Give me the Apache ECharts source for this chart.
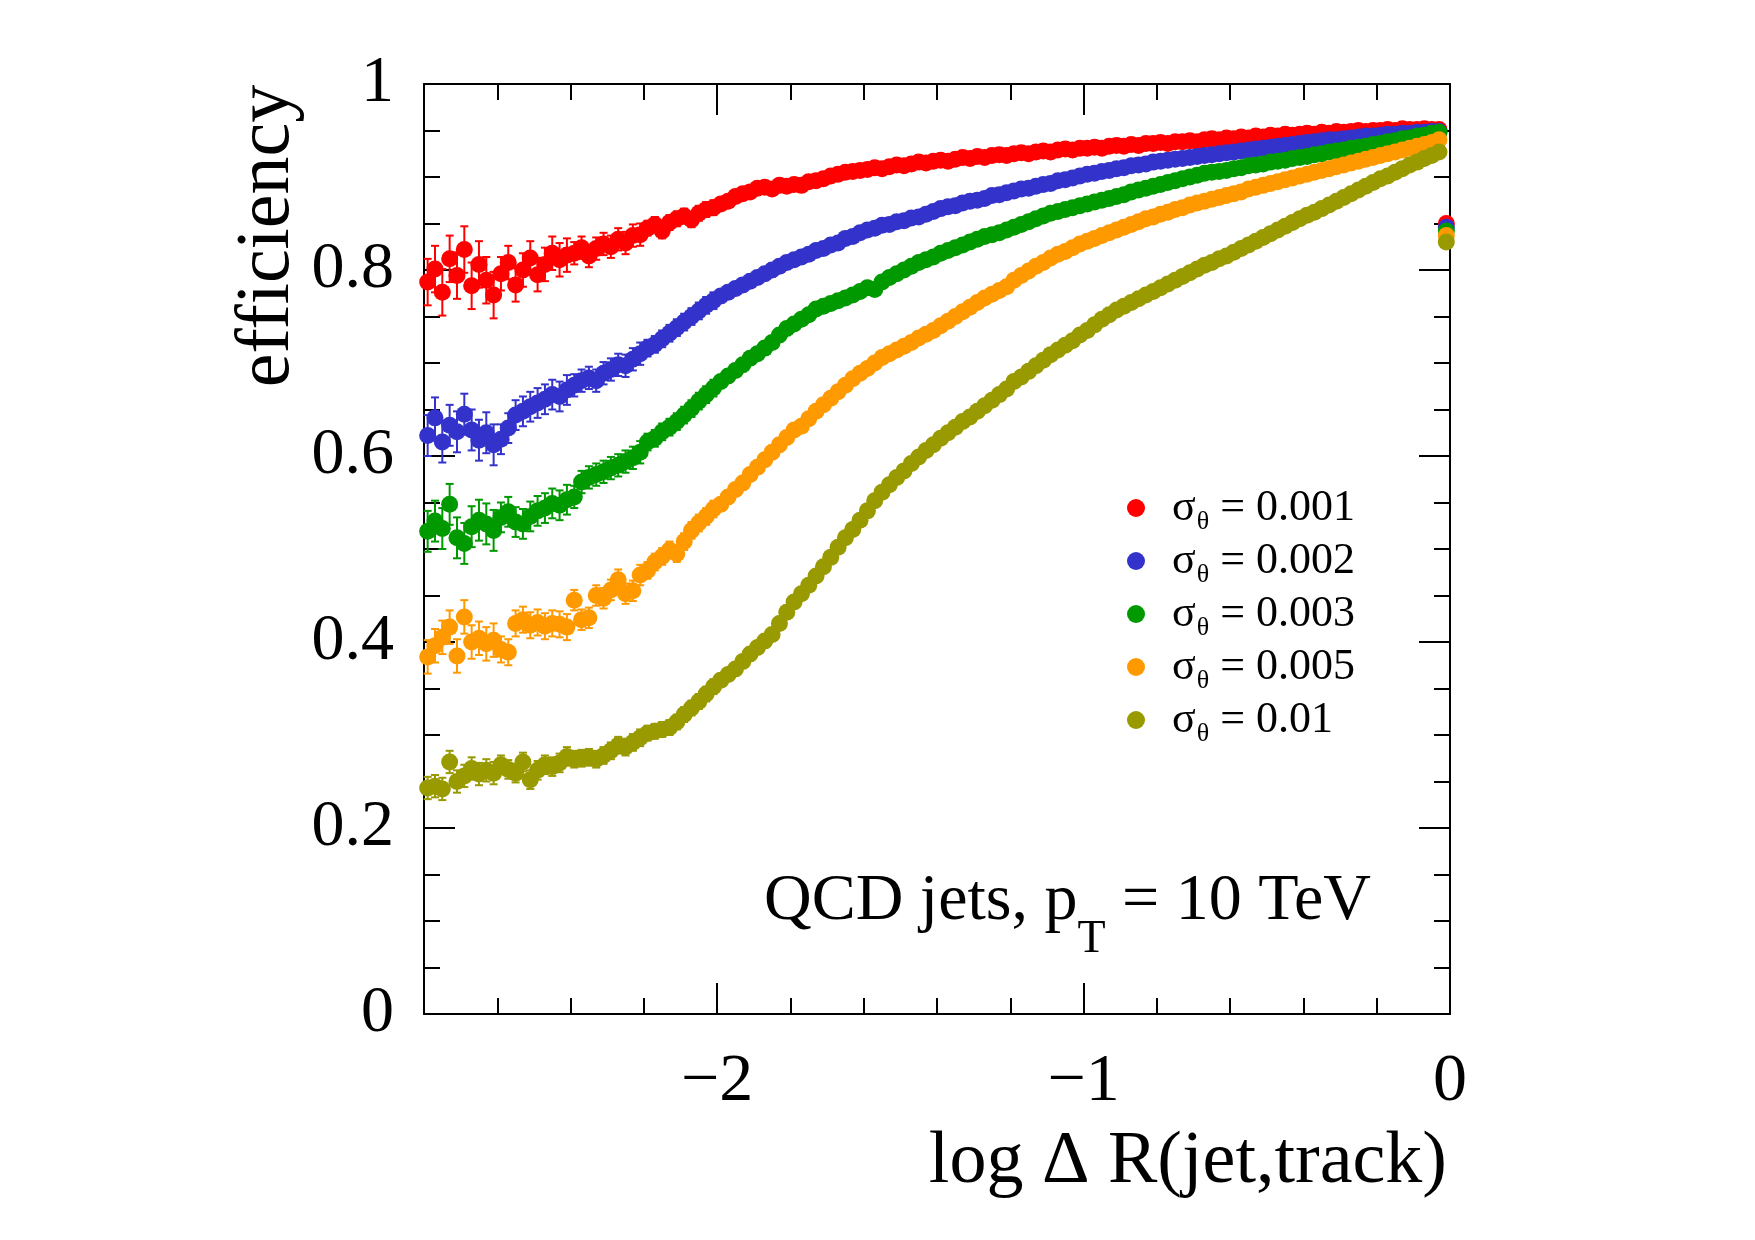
<!DOCTYPE html>
<html>
<head>
<meta charset="utf-8">
<title>efficiency vs log ΔR(jet,track)</title>
<script src="https://cdn.jsdelivr.net/npm/echarts@6.0.0/dist/echarts.min.js"></script>
<style>
  html, body { margin: 0; padding: 0; background: #fff; }
  #chart { width: 1755px; height: 1240px; }
</style>
</head>
<body>
<div id="chart"></div>
<script>
// histogram binning of log ΔR(jet,track): 140 bins of 0.02 from -2.8 to 0
var binLow = -2.8;
var binWidth = 0.02;

var sigmaLabels = ['0.001', '0.002', '0.003', '0.005', '0.01'];

// efficiency per bin (one row = 10 bins = 0.2 in x)
var effRed = [
  0.787, 0.801, 0.776, 0.812, 0.794, 0.822, 0.783, 0.806, 0.789, 0.773,
  0.796, 0.808, 0.784, 0.800, 0.813, 0.795, 0.806, 0.818, 0.811, 0.816,
  0.818, 0.824, 0.815, 0.823, 0.828, 0.825, 0.833, 0.829, 0.837, 0.838,
  0.845, 0.849, 0.842, 0.851, 0.855, 0.858, 0.854, 0.861, 0.865, 0.867,
  0.871, 0.874, 0.879, 0.882, 0.884, 0.888, 0.889, 0.887, 0.891, 0.890,
  0.892, 0.891, 0.895, 0.896, 0.898, 0.901, 0.903, 0.905, 0.906, 0.907,
  0.908, 0.910, 0.909, 0.911, 0.913, 0.912, 0.914, 0.916, 0.915, 0.917,
  0.918, 0.917, 0.919, 0.921, 0.920, 0.922, 0.921, 0.923, 0.924, 0.923,
  0.925, 0.926, 0.925, 0.927, 0.928, 0.927, 0.929, 0.930, 0.929, 0.931,
  0.931, 0.932, 0.931, 0.933, 0.934, 0.933, 0.935, 0.934, 0.936, 0.936,
  0.937, 0.936, 0.938, 0.938, 0.939, 0.938, 0.940, 0.941, 0.940, 0.942,
  0.941, 0.943, 0.942, 0.944, 0.943, 0.945, 0.944, 0.946, 0.945, 0.946,
  0.947, 0.946, 0.948, 0.947, 0.949, 0.948, 0.949, 0.950, 0.949, 0.950,
  0.950, 0.951, 0.950, 0.952, 0.951, 0.951, 0.952, 0.951, 0.951, 0.850
];
var effBlue = [
  0.622, 0.641, 0.615, 0.633, 0.626, 0.645, 0.628, 0.617, 0.625, 0.612,
  0.618, 0.630, 0.644, 0.648, 0.653, 0.657, 0.661, 0.666, 0.664, 0.671,
  0.676, 0.681, 0.684, 0.681, 0.689, 0.693, 0.698, 0.697, 0.704, 0.710,
  0.716, 0.720, 0.726, 0.732, 0.738, 0.744, 0.750, 0.756, 0.762, 0.767,
  0.772, 0.776, 0.780, 0.784, 0.788, 0.792, 0.796, 0.800, 0.804, 0.808,
  0.811, 0.814, 0.817, 0.821, 0.823, 0.827, 0.829, 0.834, 0.836, 0.840,
  0.843, 0.845, 0.848, 0.849, 0.852, 0.853, 0.856, 0.857, 0.860, 0.863,
  0.866, 0.868, 0.869, 0.872, 0.874, 0.875, 0.877, 0.880, 0.881, 0.883,
  0.885, 0.887, 0.888, 0.890, 0.892, 0.893, 0.896, 0.897, 0.899, 0.901,
  0.903, 0.904, 0.906, 0.907, 0.909, 0.910, 0.912, 0.913, 0.914, 0.916,
  0.917, 0.918, 0.919, 0.920, 0.921, 0.922, 0.923, 0.924, 0.925, 0.926,
  0.927, 0.928, 0.929, 0.930, 0.931, 0.932, 0.933, 0.934, 0.935, 0.936,
  0.937, 0.938, 0.939, 0.940, 0.940, 0.941, 0.942, 0.943, 0.944, 0.944,
  0.945, 0.946, 0.946, 0.947, 0.947, 0.948, 0.948, 0.949, 0.949, 0.846
];
var effGreen = [
  0.519, 0.530, 0.522, 0.548, 0.512, 0.506, 0.524, 0.531, 0.527, 0.520,
  0.534, 0.540, 0.529, 0.527, 0.535, 0.541, 0.544, 0.549, 0.547, 0.553,
  0.556, 0.572, 0.577, 0.580, 0.583, 0.587, 0.590, 0.594, 0.598, 0.604,
  0.615, 0.619, 0.626, 0.631, 0.637, 0.644, 0.651, 0.659, 0.666, 0.673,
  0.680, 0.686, 0.692, 0.698, 0.705, 0.710, 0.716, 0.722, 0.730, 0.737,
  0.742, 0.747, 0.752, 0.758, 0.761, 0.764, 0.767, 0.770, 0.773, 0.777,
  0.781, 0.779, 0.787, 0.792, 0.796, 0.800, 0.804, 0.808, 0.811, 0.814,
  0.818, 0.821, 0.824, 0.827, 0.830, 0.833, 0.836, 0.838, 0.840, 0.843,
  0.846, 0.849, 0.852, 0.855, 0.858, 0.861, 0.863, 0.865, 0.867, 0.869,
  0.871, 0.873, 0.875, 0.877, 0.879, 0.881, 0.884, 0.886, 0.888, 0.890,
  0.892, 0.894, 0.896, 0.898, 0.900, 0.902, 0.904, 0.905, 0.906, 0.907,
  0.909, 0.910, 0.912, 0.913, 0.914, 0.916, 0.917, 0.918, 0.920, 0.921,
  0.922, 0.924, 0.925, 0.927, 0.928, 0.929, 0.931, 0.932, 0.933, 0.935,
  0.936, 0.938, 0.939, 0.941, 0.942, 0.944, 0.945, 0.947, 0.948, 0.842
];
var effOrange = [
  0.384, 0.396, 0.405, 0.416, 0.385, 0.427, 0.400, 0.404, 0.398, 0.402,
  0.392, 0.389, 0.420, 0.424, 0.418, 0.421, 0.417, 0.420, 0.419, 0.416,
  0.445, 0.424, 0.426, 0.450, 0.447, 0.456, 0.467, 0.452, 0.455, 0.472,
  0.477, 0.486, 0.492, 0.499, 0.495, 0.508, 0.520, 0.528, 0.535, 0.543,
  0.548, 0.556, 0.564, 0.571, 0.580, 0.588, 0.596, 0.604, 0.612, 0.620,
  0.628, 0.632, 0.640, 0.648, 0.655, 0.662, 0.669, 0.676, 0.683, 0.689,
  0.694, 0.700, 0.706, 0.710, 0.714, 0.718, 0.722, 0.727, 0.731, 0.735,
  0.740, 0.745, 0.750, 0.755, 0.760, 0.765, 0.770, 0.774, 0.778, 0.782,
  0.789, 0.794, 0.799, 0.804, 0.808, 0.813, 0.817, 0.820, 0.824, 0.828,
  0.831, 0.834, 0.837, 0.840, 0.843, 0.846, 0.849, 0.852, 0.855, 0.857,
  0.860, 0.862, 0.865, 0.867, 0.870, 0.872, 0.874, 0.876, 0.878, 0.880,
  0.882, 0.884, 0.887, 0.889, 0.891, 0.893, 0.895, 0.897, 0.899, 0.901,
  0.903, 0.905, 0.907, 0.909, 0.911, 0.913, 0.915, 0.917, 0.919, 0.921,
  0.923, 0.925, 0.927, 0.929, 0.931, 0.933, 0.935, 0.937, 0.940, 0.837
];
var effOlive = [
  0.243, 0.245, 0.242, 0.271, 0.250, 0.256, 0.264, 0.258, 0.262, 0.259,
  0.268, 0.263, 0.259, 0.271, 0.252, 0.262, 0.268, 0.266, 0.270, 0.277,
  0.274, 0.275, 0.276, 0.274, 0.278, 0.283, 0.289, 0.287, 0.292, 0.297,
  0.302, 0.304, 0.306, 0.308, 0.314, 0.322, 0.329, 0.336, 0.344, 0.352,
  0.359, 0.365, 0.371, 0.379, 0.387, 0.394, 0.401, 0.408, 0.420, 0.432,
  0.443, 0.452, 0.461, 0.471, 0.481, 0.491, 0.502, 0.512, 0.521, 0.531,
  0.541, 0.552, 0.561, 0.569, 0.577, 0.584, 0.592, 0.599, 0.606, 0.612,
  0.619, 0.625, 0.631, 0.637, 0.642, 0.648, 0.654, 0.660, 0.666, 0.672,
  0.680, 0.685, 0.691, 0.697, 0.703, 0.709, 0.714, 0.719, 0.724, 0.730,
  0.735, 0.741, 0.747, 0.752, 0.757, 0.761, 0.765, 0.769, 0.773, 0.777,
  0.781, 0.785, 0.789, 0.793, 0.797, 0.801, 0.805, 0.808, 0.812, 0.815,
  0.819, 0.823, 0.827, 0.831, 0.835, 0.839, 0.843, 0.847, 0.851, 0.855,
  0.859, 0.862, 0.866, 0.870, 0.874, 0.878, 0.882, 0.886, 0.890, 0.894,
  0.898, 0.901, 0.905, 0.909, 0.913, 0.916, 0.920, 0.923, 0.927, 0.830
];

// error bar half-height, one value per row of 10 bins
var errRed    = [0.025, 0.018, 0.012, 0.008, 0.006, 0.005, 0.004, 0.003, 0.003, 0.002, 0.002, 0.002, 0.002, 0.002];
var errBlue   = [0.022, 0.016, 0.012, 0.009, 0.007, 0.006, 0.005, 0.004, 0.003, 0.003, 0.002, 0.002, 0.002, 0.002];
var errGreen  = [0.022, 0.016, 0.012, 0.009, 0.007, 0.006, 0.005, 0.004, 0.003, 0.003, 0.003, 0.002, 0.002, 0.002];
var errOrange = [0.018, 0.014, 0.011, 0.009, 0.007, 0.006, 0.005, 0.004, 0.004, 0.003, 0.003, 0.003, 0.002, 0.002];
var errOlive  = [0.012, 0.010, 0.009, 0.008, 0.007, 0.006, 0.005, 0.004, 0.004, 0.003, 0.003, 0.003, 0.002, 0.002];

var chart = echarts.init(document.getElementById('chart'));

var serif = '"Liberation Serif", "DejaVu Serif", serif';
var colors = ['#ff0000', '#3333cc', '#009900', '#ff9900', '#999900'];
var effs = [effRed, effBlue, effGreen, effOrange, effOlive];
var errs = [errRed, errBlue, errGreen, errOrange, errOlive];
var names = sigmaLabels.map(function (s) { return 'σθ = ' + s; });
var axisColor = '#000';

function binCenter(i) {
  return +(binLow + (i + 0.5) * binWidth).toFixed(3);
}

function xLabel(v) {
  var r = Math.round(v);
  if (Math.abs(v - r) > 1e-6) return '';
  return r < 0 ? '\u2212' + (-r) : String(r);
}

function yLabel(v) {
  var r = Math.round(v * 5);
  if (Math.abs(v * 5 - r) > 1e-6) return '';
  if (r === 0) return '0';
  if (r === 5) return '1';
  return (r / 5).toFixed(1);
}

// error bars with small caps (ROOT style)
function errorBars(color) {
  return function (params, api) {
    var x = api.value(0), y = api.value(1), e = api.value(2);
    var hi = api.coord([x, y + e]);
    var lo = api.coord([x, y - e]);
    var cw = 4;
    var st = { stroke: color, lineWidth: 2 };
    return {
      type: 'group',
      children: [
        { type: 'line', shape: { x1: hi[0], y1: hi[1], x2: lo[0], y2: lo[1] }, style: st },
        { type: 'line', shape: { x1: hi[0] - cw, y1: hi[1], x2: hi[0] + cw, y2: hi[1] }, style: st },
        { type: 'line', shape: { x1: lo[0] - cw, y1: lo[1], x2: lo[0] + cw, y2: lo[1] }, style: st }
      ]
    };
  };
}

var series = [];
effs.forEach(function (eff, k) {
  var pts = [], bars = [];
  eff.forEach(function (v, i) {
    var x = binCenter(i);
    pts.push([x, v]);
    bars.push([x, v, errs[k][Math.floor(i / 10)]]);
  });
  series.push({
    type: 'custom',
    name: 'err ' + names[k],
    renderItem: errorBars(colors[k]),
    data: bars,
    silent: true,
    z: 2
  });
  series.push({
    type: 'scatter',
    name: names[k],
    data: pts,
    symbol: 'circle',
    symbolSize: 17,
    itemStyle: { color: colors[k], opacity: 1 },
    silent: true,
    z: 2
  });
});

var minorTick = { inside: true, length: 16, lineStyle: { color: axisColor, width: 2 } };
var majorTick = { inside: true, length: 31, lineStyle: { color: axisColor, width: 2 } };
var lineOn = { show: true, onZero: false, lineStyle: { color: axisColor, width: 2 } };
var lineOff = { show: false, onZero: false };

var option = {
  animation: false,
  backgroundColor: '#fff',
  grid: { left: 424, top: 84, width: 1026, height: 930, containLabel: false, outerBoundsMode: 'none' },
  xAxis: [
    {
      type: 'value', position: 'bottom', min: -2.8, max: 0, interval: 0.2,
      axisLine: lineOn, axisTick: minorTick, splitLine: { show: false },
      axisLabel: { margin: 34, fontFamily: serif, fontSize: 68, color: '#000', formatter: xLabel }
    },
    {
      type: 'value', position: 'bottom', min: -2.8, max: 0,
      axisLine: lineOff, splitLine: { show: false }, axisLabel: { show: false },
      axisTick: Object.assign({ customValues: [-2, -1] }, majorTick)
    },
    {
      type: 'value', position: 'top', min: -2.8, max: 0, interval: 0.2,
      axisLine: lineOn, axisTick: minorTick, splitLine: { show: false }, axisLabel: { show: false }
    },
    {
      type: 'value', position: 'top', min: -2.8, max: 0,
      axisLine: lineOff, splitLine: { show: false }, axisLabel: { show: false },
      axisTick: Object.assign({ customValues: [-2, -1] }, majorTick)
    }
  ],
  yAxis: [
    {
      type: 'value', position: 'left', min: 0, max: 1, interval: 0.05,
      axisLine: lineOn, axisTick: minorTick, splitLine: { show: false },
      axisLabel: { margin: 30, fontFamily: serif, fontSize: 66, color: '#000', formatter: yLabel }
    },
    {
      type: 'value', position: 'left', min: 0, max: 1,
      axisLine: lineOff, splitLine: { show: false }, axisLabel: { show: false },
      axisTick: Object.assign({ customValues: [0.2, 0.4, 0.6, 0.8] }, majorTick)
    },
    {
      type: 'value', position: 'right', min: 0, max: 1, interval: 0.05,
      axisLine: lineOn, axisTick: minorTick, splitLine: { show: false }, axisLabel: { show: false }
    },
    {
      type: 'value', position: 'right', min: 0, max: 1,
      axisLine: lineOff, splitLine: { show: false }, axisLabel: { show: false },
      axisTick: Object.assign({ customValues: [0.2, 0.4, 0.6, 0.8] }, majorTick)
    }
  ],
  legend: {
    orient: 'vertical',
    left: 1122,
    top: 476,
    itemGap: -1,
    itemWidth: 18,
    itemHeight: 18,
    selectedMode: false,
    data: names.map(function (n) { return { name: n, icon: 'circle' }; }),
    formatter: function (name) {
      return '{s|σ}{t|θ}{v| = ' + sigmaLabels[names.indexOf(name)] + '}';
    },
    textStyle: {
      color: '#000',
      fontFamily: serif,
      rich: {
        s: { fontFamily: serif, fontSize: 44, lineHeight: 54, padding: [0, 0, 0, 22], color: '#000' },
        t: { fontFamily: serif, fontSize: 26, lineHeight: 26, padding: [28, 0, 0, 1], color: '#000' },
        v: { fontFamily: serif, fontSize: 44, lineHeight: 54, color: '#000' }
      }
    }
  },
  graphic: [
    {
      type: 'text', x: 1447, y: 1163, silent: true,
      style: { text: 'log Δ R(jet,track)', fontFamily: serif, fontSize: 74, fill: '#000', align: 'right', verticalAlign: 'middle' }
    },
    {
      type: 'text', x: 268, y: 236, rotation: Math.PI / 2, silent: true,
      style: { text: 'efficiency', fontFamily: serif, fontSize: 76, fill: '#000', align: 'center', verticalAlign: 'middle' }
    },
    {
      type: 'text', x: 1371, y: 855, silent: true,
      style: {
        text: '{a|QCD jets, p}{b|T}{a| = 10 TeV}',
        align: 'right', verticalAlign: 'top', fill: '#000',
        rich: {
          a: { fontFamily: serif, fontSize: 66, lineHeight: 93, fill: '#000' },
          b: { fontFamily: serif, fontSize: 46, lineHeight: 46, padding: [76, 0, 0, 0], fill: '#000' }
        }
      }
    }
  ],
  series: series
};

chart.setOption(option);
</script>
</body>
</html>
